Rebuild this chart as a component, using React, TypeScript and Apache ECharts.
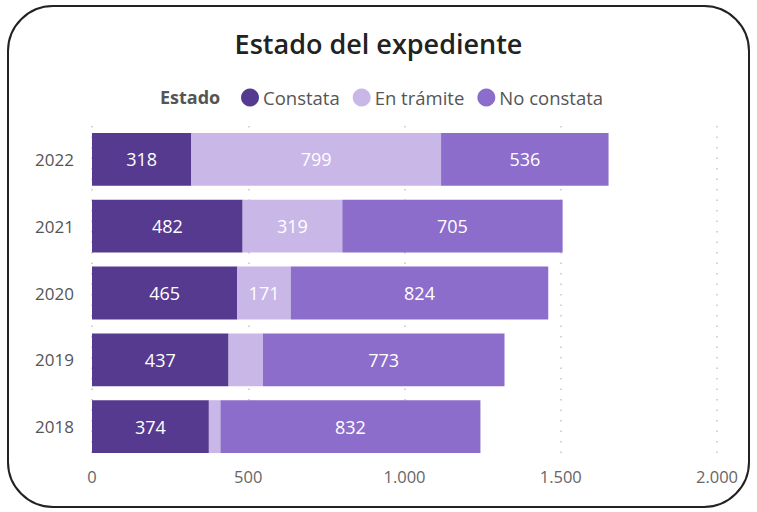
import React, { useEffect, useRef } from "react";
import * as echarts from "echarts";

const years = ["2018", "2019", "2020", "2021", "2022"];
const constata = [374, 437, 465, 482, 318];
const enTramite = [37, 110, 171, 319, 799];
const noConstata = [832, 773, 824, 705, 536];
const xTicks = [0, 500, 1000, 1500, 2000];

const colors = ["#563A8F", "#C8B7E7", "#8C6DCB"];
const FONT = "'Open Sans', 'Noto Sans', sans-serif";

function fmt(v: number) {
  return v.toString().replace(/\B(?=(\d{3})+(?!\d))/g, ".");
}

export default function App() {
  const ref = useRef<HTMLDivElement>(null);
  useEffect(() => {
    document.body.style.margin = "0";
    const chart = echarts.init(ref.current!, null, { renderer: "svg" });
    const label = {
      show: true,
      color: "#ffffff",
      fontSize: 18,
      fontFamily: FONT,
      formatter: (p: any) => (p.value >= 150 ? fmt(p.value) : ""),
    };
    const mk = (name: string, data: number[], i: number) => ({
      name,
      type: "bar",
      stack: "total",
      data,
      barCategoryGap: "21%",
      itemStyle: { color: colors[i] },
      label,
      emphasis: { disabled: true },
    });
    chart.setOption({
      animation: false,
      textStyle: { fontFamily: FONT },
      title: {
        text: "Estado del expediente",
        left: "center",
        top: 25,
        textStyle: { fontSize: 27, fontWeight: 600, color: "#222", fontFamily: FONT },
      },
      legend: {
        left: 236,
        top: 83,
        icon: "circle",
        itemWidth: 18,
        itemHeight: 18,
        itemGap: 13,
        textStyle: { fontSize: 18.5, color: "#555", fontFamily: FONT, padding: [0, 0, 0, -1] },
        data: ["Constata", "En trámite", "No constata"],
      },
      graphic: [
        {
          type: "rect",
          shape: { x: 8, y: 6, width: 741, height: 501, r: 45 },
          style: { fill: "none", stroke: "#222", lineWidth: 2 },
          silent: true,
        },
        {
          type: "text",
          left: 160,
          top: 88,
          style: { text: "Estado", fontSize: 18, fontWeight: "bold", fill: "#555", fontFamily: FONT },
        },
      ],
      grid: { left: 92, right: 40, top: 126, bottom: 52, containLabel: false },
      xAxis: {
        type: "value",
        min: 0,
        max: 2000,
        interval: 500,
        axisLabel: {
          fontSize: 16.5,
          color: "#666",
          margin: 8,
          fontFamily: FONT,
          formatter: (v: number) => (xTicks.includes(v) ? fmt(v) : ""),
        },
        axisLine: { show: false },
        axisTick: { show: false },
        splitLine: { show: true, lineStyle: { type: [1.5, 9], color: "#c4c4c4", width: 1.5 } },
      },
      yAxis: {
        type: "category",
        data: years,
        axisLabel: { fontSize: 17, color: "#555", margin: 18, fontFamily: FONT },
        axisLine: { show: false },
        axisTick: { show: false },
      },
      series: [
        mk("Constata", constata, 0),
        mk("En trámite", enTramite, 1),
        mk("No constata", noConstata, 2),
      ],
    });
    return () => chart.dispose();
  }, []);
  return <div ref={ref} style={{ width: 757, height: 512, background: "#fff" }} />;
}
